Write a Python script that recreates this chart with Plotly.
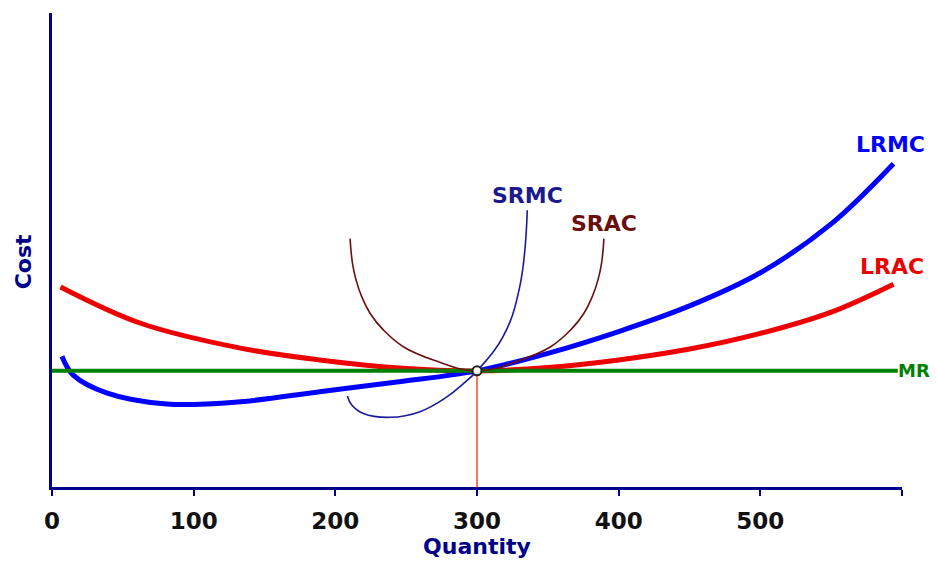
import plotly.graph_objects as go

# ---- data ----
mr_level = 24.5
q_star = 300

lrac_x = [6, 62, 133, 189, 245, 300, 350, 400, 450, 500, 550, 594]
lrac_y = [42.2, 34.6, 29.3, 26.8, 25.1, 24.5, 25.2, 26.8, 29.1, 32.4, 36.9, 42.8]

lrmc_x = [7, 15, 39, 81, 133, 189, 245, 300, 350, 400, 450, 500, 550, 594]
lrmc_y = [27.6, 23.6, 19.8, 17.5, 18.0, 20.1, 22.2, 24.5, 28.2, 32.8, 38.2, 45.2, 55.5, 68.2]

srmc_x = [208.5, 211.6, 219.8, 238.7, 259.8, 278.7, 290.4, 300, 318, 330, 335.5]
srmc_y = [19.2, 17.3, 15.5, 14.7, 15.9, 19.0, 21.8, 24.5, 31.5, 42.0, 58.4]

srac_x = [210.4, 212.1, 214.7, 218.7, 224.6, 234.0, 248.0, 269.2, 300,
          330.8, 352.0, 366.0, 375.4, 381.3, 385.3, 387.9, 389.6]
srac_y = [52.4, 47.2, 43.6, 40.1, 36.6, 33.1, 29.6, 26.8, 24.5,
          26.8, 29.6, 33.1, 36.6, 40.1, 43.6, 47.2, 52.4]

mr_x = [0, 597]
mr_y = [mr_level, mr_level]

tick_vals = [0, 100, 200, 300, 400, 500, 600]
tick_text = ["0", "100", "200", "300", "400", "500", ""]

NAVY = "#00008b"
FONT = "DejaVu Sans, Verdana, sans-serif"

fig = go.Figure()

fig.add_trace(go.Scatter(x=lrac_x, y=lrac_y, mode="lines",
                         line=dict(color="#ee0000", width=5, shape="spline", smoothing=1.0)))
fig.add_trace(go.Scatter(x=lrmc_x, y=lrmc_y, mode="lines",
                         line=dict(color="#0000ff", width=5, shape="spline", smoothing=1.0)))
fig.add_trace(go.Scatter(x=mr_x, y=mr_y, mode="lines",
                         line=dict(color="#008000", width=4)))
fig.add_trace(go.Scatter(x=srac_x, y=srac_y, mode="lines",
                         line=dict(color="#6b0f0f", width=1.6, shape="spline", smoothing=1.2)))
fig.add_trace(go.Scatter(x=srmc_x, y=srmc_y, mode="lines",
                         line=dict(color="#1a1a9c", width=1.6, shape="spline", smoothing=1.2)))
fig.add_trace(go.Scatter(x=[q_star, q_star], y=[0, mr_level], mode="lines",
                         line=dict(color="#ff4422", width=1.5)))
fig.add_trace(go.Scatter(x=[q_star], y=[mr_level], mode="markers",
                         marker=dict(color="white", size=9, line=dict(color="#222222", width=2))))

labels = [
    ("SRMC", 335.3, 61.5, "#1a1a8c"),
    ("SRAC", 389.6, 55.5, "#6b0f0f"),
    ("LRMC", 592, 72.3, "#0000ff"),
    ("LRAC", 593, 46.6, "#ee0000"),
]
for txt, x, y, c in labels:
    fig.add_annotation(x=x, y=y, text="<b>%s</b>" % txt, showarrow=False,
                       font=dict(family=FONT, size=22, color=c), xanchor="center", yanchor="middle")
fig.add_annotation(x=600, y=mr_level, text="<b>MR</b>", showarrow=False, xanchor="left",
                   xshift=-6, font=dict(family=FONT, size=18, color="#008000"), yanchor="middle")
fig.add_annotation(xref="paper", yref="paper", x=0, y=0.474, xshift=-29, text="<b>Cost</b>",
                   textangle=-90, showarrow=False,
                   font=dict(family=FONT, size=22, color=NAVY), xanchor="center", yanchor="middle")

fig.update_layout(
    width=922, height=551,
    margin=dict(l=44, r=28, t=5, b=72),
    paper_bgcolor="white", plot_bgcolor="white",
    showlegend=False,
    xaxis=dict(range=[0, 600], tickvals=tick_vals, ticktext=["<b>%s</b>" % t if t else "" for t in tick_text],
               showgrid=False, zeroline=False, showline=True, linecolor=NAVY, linewidth=3,
               ticks="outside", ticklen=6, tickwidth=2, tickcolor=NAVY, ticklabelstandoff=5,
               tickfont=dict(family=FONT, size=23, color="#111111"),
               title=dict(text="<b>Quantity</b>", standoff=5,
                          font=dict(family=FONT, size=22, color=NAVY))),
    yaxis=dict(range=[0, 100], showgrid=False, zeroline=False, showline=True, linecolor=NAVY,
               linewidth=3, showticklabels=False, ticks=""),
)

fig.write_html("out.html")
